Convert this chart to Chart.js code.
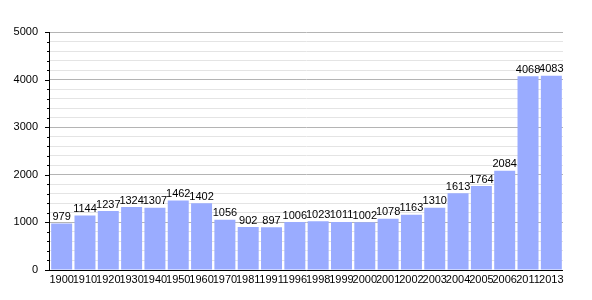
<!DOCTYPE html>
<html lang="en">
<head>
  <meta charset="UTF-8" />
  <title>Population</title>
  <script src="https://cdn.jsdelivr.net/npm/chart.js"></script>
  <style>
    body {
      margin: 0;
      background: white;
    }
    canvas {
      display: block;
    }
  </style>
</head>
<body>
  <canvas id="popChart" width="592" height="300"></canvas>

  <script>
    const years = ['1900', '1910', '1920', '1930', '1940', '1950', '1960', '1970', '1981', '1991', '1996',
      '1998', '1999', '2000', '2001', '2002', '2003', '2004', '2005', '2006', '2011', '2013'];
    const population = [979, 1144, 1237, 1324, 1307, 1462, 1402, 1056, 902, 897, 1006,
      1023, 1011, 1002, 1078, 1163, 1310, 1613, 1764, 2084, 4068, 4083];
    const yMax = 5000;
    const majorStep = 1000;
    const minorStep = 200;

    const font = { family: "'Liberation Sans', Arial, sans-serif", size: 11 };

    // value labels above each bar
    const barLabels = {
      id: 'barLabels',
      afterDatasetsDraw(chart) {
        const ctx = chart.ctx;
        const meta = chart.getDatasetMeta(0);
        ctx.save();
        ctx.font = `${font.size}px ${font.family}`;
        ctx.fillStyle = '#000';
        ctx.textAlign = 'center';
        ctx.textBaseline = 'bottom';
        meta.data.forEach((bar, i) => {
          ctx.fillText(population[i], bar.x, bar.y - 1);
        });
        ctx.restore();
      }
    };

    // axis lines and tick marks (major longer than minor)
    const axisTicks = {
      id: 'axisTicks',
      afterDraw(chart) {
        const ctx = chart.ctx;
        const y = chart.scales.y;
        const area = chart.chartArea;
        ctx.save();
        ctx.strokeStyle = '#000';
        ctx.lineWidth = 1;
        ctx.beginPath();
        for (let v = 0; v <= yMax; v += minorStep) {
          const py = Math.round(y.getPixelForValue(v)) + 0.5;
          const len = v % majorStep === 0 ? 5 : 3;
          ctx.moveTo(area.left - len, py);
          ctx.lineTo(area.left, py);
        }
        ctx.moveTo(area.left - 0.5, area.top);
        ctx.lineTo(area.left - 0.5, area.bottom + 0.5);
        ctx.moveTo(area.left - 0.5, Math.round(area.bottom) + 0.5);
        ctx.lineTo(area.right, Math.round(area.bottom) + 0.5);
        ctx.stroke();
        ctx.restore();
      }
    };

    new Chart(document.getElementById('popChart'), {
      type: 'bar',
      data: {
        labels: years,
        datasets: [{
          data: population,
          backgroundColor: '#9aacff',
          borderWidth: 0,
          barPercentage: 0.9,
          categoryPercentage: 1.0
        }]
      },
      options: {
        responsive: false,
        animation: false,
        layout: { padding: { top: 32, right: 29, left: 0, bottom: 0 } },
        plugins: {
          legend: { display: false },
          tooltip: { enabled: false }
        },
        scales: {
          x: {
            grid: { display: false, drawTicks: false },
            border: { display: false },
            ticks: {
              autoSkip: false,
              maxRotation: 0,
              color: '#000',
              font: font,
              padding: 3
            },
            afterFit: s => { s.height = 30; }
          },
          y: {
            min: 0,
            max: yMax,
            border: { display: false },
            grid: {
              drawTicks: false,
              color: c => (c.tick.value % majorStep === 0 ? '#b4b4b4' : '#e4e4e4')
            },
            ticks: {
              autoSkip: false,
              stepSize: minorStep,
              color: '#000',
              font: font,
              padding: 12,
              callback: v => (v % majorStep === 0 ? v : '')
            },
            afterFit: s => { s.width = 50; }
          }
        }
      },
      plugins: [barLabels, axisTicks]
    });
  </script>
</body>
</html>
